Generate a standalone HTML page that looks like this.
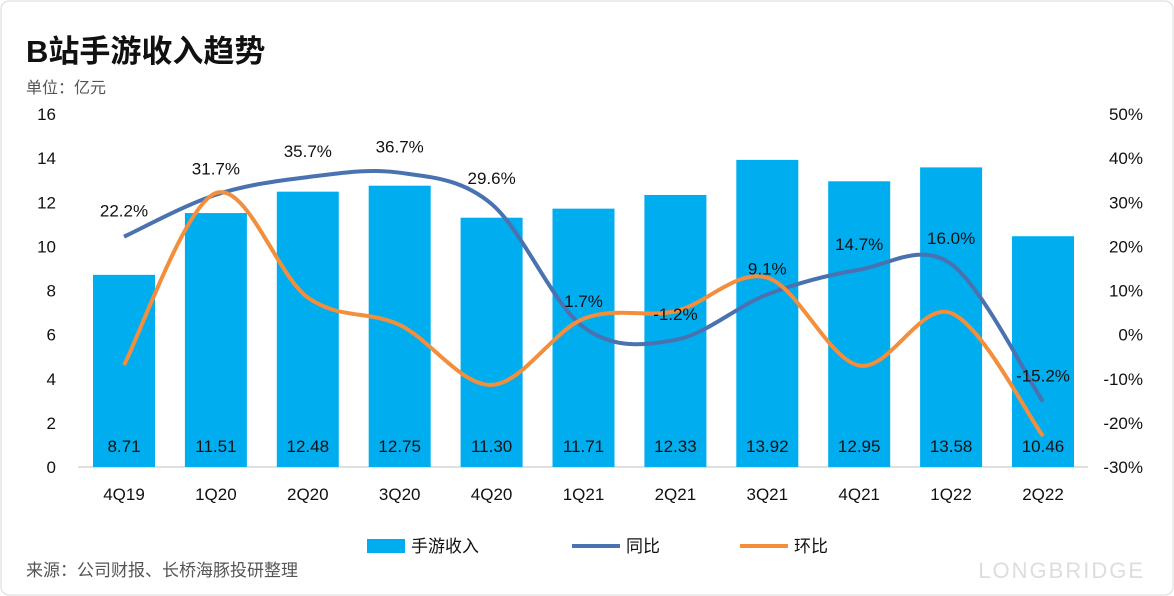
<!DOCTYPE html>
<html><head><meta charset="utf-8"><style>
body{margin:0;background:#fff;}
svg{display:block;font-family:"Liberation Sans","Noto Sans CJK SC",sans-serif;}
</style></head><body>
<svg id="chart" width="1174" height="596" viewBox="0 0 1174 596" xmlns="http://www.w3.org/2000/svg">
<rect x="1" y="1" width="1172" height="594" rx="8" fill="#fff" stroke="#d9d9d9"/>
<text x="26" y="62" font-size="31" font-weight="bold" fill="#111">B站手游收入趋势</text>
<text x="26" y="93" font-size="16" fill="#555">单位：亿元</text>
<text x="1145" y="578" font-size="22" fill="#ddd" text-anchor="end" letter-spacing="2">LONGBRIDGE</text>
<g id="plot"></g>
<g>
<rect x="367" y="539" width="38" height="14" fill="#00aeef"/>
<text x="411" y="552" font-size="17" fill="#111">手游收入</text>
<line x1="572" y1="546" x2="620" y2="546" stroke="#4a72b0" stroke-width="4"/>
<text x="626" y="552" font-size="17" fill="#111">同比</text>
<line x1="740" y1="546" x2="788" y2="546" stroke="#f28e3c" stroke-width="4"/>
<text x="794" y="552" font-size="17" fill="#111">环比</text>
</g>
<text x="26" y="576" font-size="17" fill="#555">来源：公司财报、长桥海豚投研整理</text>
</svg>
<script>
const categories=["4Q19","1Q20","2Q20","3Q20","4Q20","1Q21","2Q21","3Q21","4Q21","1Q22","2Q22"];
const revenue=[8.71,11.51,12.48,12.75,11.30,11.71,12.33,13.92,12.95,13.58,10.46];
const yoy=[22.2,31.7,35.7,36.7,29.6,1.7,-1.2,9.1,14.7,16.0,-15.2];
const qoq=[-6.9,32.1,8.4,2.2,-11.4,3.6,5.3,12.9,-7.0,4.9,-23.0];
const leftTicks=[0,2,4,6,8,10,12,14,16];
const rightTicks=[-30,-20,-10,0,10,20,30,40,50];
const NS="http://www.w3.org/2000/svg";
const g=document.getElementById('plot');
const x0=124,step=91.9,yTop=114,yBot=467;
const xs=i=>x0+i*step;
const yL=v=>yBot-(v/16)*(yBot-yTop);
const yR=v=>yBot-((v+30)/80)*(yBot-yTop);
function mk(t,a,txt){const e=document.createElementNS(NS,t);for(const k in a)e.setAttribute(k,a[k]);if(txt!==undefined)e.textContent=txt;g.appendChild(e);return e;}
let e=mk('line',{x1:78,x2:1088,y1:yBot,y2:yBot,stroke:'#bfbfbf'});


leftTicks.forEach(v=>{const t=mk('text',{x:56,y:yL(v)+6,'font-size':17,'text-anchor':'end',fill:'#111'},String(v));

});
rightTicks.forEach(v=>{const t=mk('text',{x:1143,y:yR(v)+6,'font-size':17,'text-anchor':'end',fill:'#111'},v+'%');

});
categories.forEach((c,i)=>{
const b=mk('rect',{x:xs(i)-31,y:yL(revenue[i]),width:62,height:yBot-yL(revenue[i]),fill:'#00aeef'});


const l=mk('text',{x:xs(i),y:452,'font-size':17,'text-anchor':'middle',fill:'#111'},revenue[i].toFixed(2));


const t=mk('text',{x:xs(i),y:500,'font-size':17,'text-anchor':'middle',fill:'#111'},c);


});
function spline(pts){let d='M'+pts[0][0]+','+pts[0][1];const k=1/6;
for(let i=0;i<pts.length-1;i++){const p0=pts[Math.max(0,i-1)],p1=pts[i],p2=pts[i+1],p3=pts[Math.min(pts.length-1,i+2)];
const c1=[p1[0]+(p2[0]-p0[0])*k,p1[1]+(p2[1]-p0[1])*k],c2=[p2[0]-(p3[0]-p1[0])*k,p2[1]-(p3[1]-p1[1])*k];
d+=' C'+c1+' '+c2+' '+p2;}return d;}
e=mk('path',{d:spline(yoy.map((v,i)=>[xs(i),yR(v)])),fill:'none',stroke:'#4a72b0','stroke-width':4});


e=mk('path',{d:spline(qoq.map((v,i)=>[xs(i),yR(v)])),fill:'none',stroke:'#f28e3c','stroke-width':4});


yoy.forEach((v,i)=>{const t=mk('text',{x:xs(i),y:yR(v)-20,'font-size':17,'text-anchor':'middle',fill:'#111'},v.toFixed(1)+'%');

});
</script>
</body></html>
